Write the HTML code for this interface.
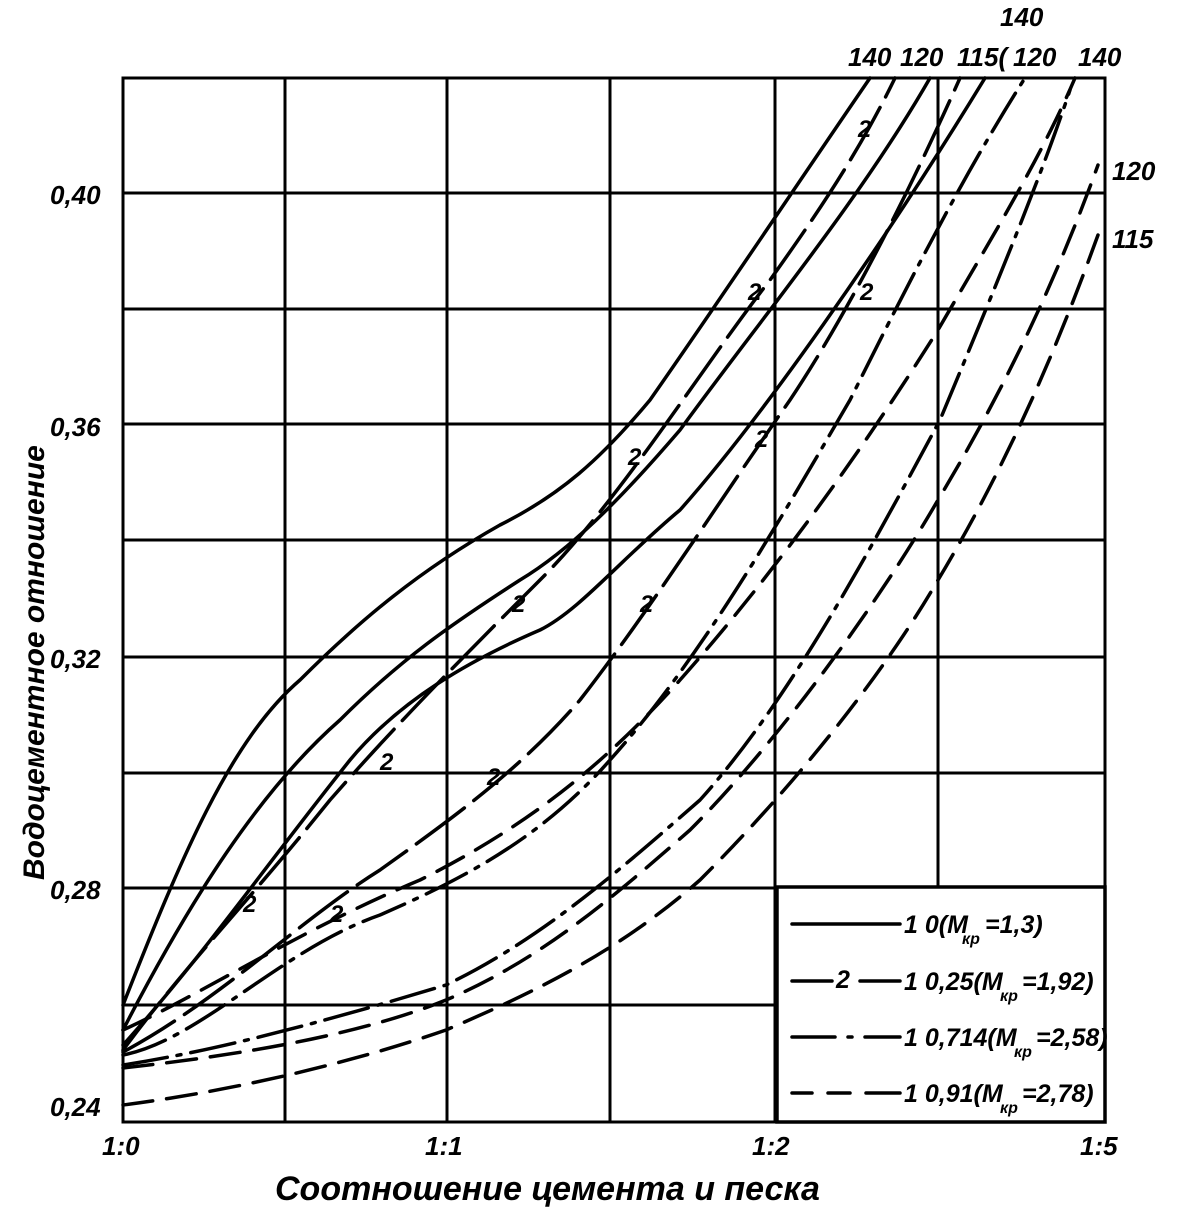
<!DOCTYPE html>
<html><head><meta charset="utf-8"><style>
html,body{margin:0;padding:0;background:#fff;}
svg{display:block;}
text{font-family:"Liberation Sans",sans-serif;font-style:italic;fill:#000;}
</style></head><body>
<svg width="1177" height="1217" viewBox="0 0 1177 1217" xmlns="http://www.w3.org/2000/svg">
<g stroke="#000" stroke-width="3" fill="none">
<rect x="123" y="78" width="982" height="1044"/>
<line x1="285" y1="78" x2="285" y2="1122"/>
<line x1="447" y1="78" x2="447" y2="1122"/>
<line x1="610" y1="78" x2="610" y2="1122"/>
<line x1="775" y1="78" x2="775" y2="1122"/>
<line x1="938" y1="78" x2="938" y2="887"/>
<line x1="123" y1="193" x2="1105" y2="193"/>
<line x1="123" y1="309" x2="1105" y2="309"/>
<line x1="123" y1="424" x2="1105" y2="424"/>
<line x1="123" y1="540" x2="1105" y2="540"/>
<line x1="123" y1="657" x2="1105" y2="657"/>
<line x1="123" y1="773" x2="1105" y2="773"/>
<line x1="123" y1="888" x2="1105" y2="888"/>
<line x1="123" y1="1005" x2="777" y2="1005"/>
</g>
<g stroke="#000" stroke-width="3.5" fill="none" stroke-linejoin="round" stroke-linecap="round">
<path d="M123,1005 C180,860 230,740 300,680 C360,620 420,570 500,525 C560,495 600,460 650,400 C720,300 800,180 870,78"/>
<path d="M123,1030 C190,900 260,790 340,720 C400,660 450,625 520,580 C570,550 620,500 680,430 C760,320 860,200 930,78"/>
<path d="M123,1045 C200,960 270,860 350,760 C400,700 470,660 540,630 C580,610 620,560 680,510 C760,420 880,250 985,78"/>
<path d="M123,1050 C190,960 250,900 330,800 C400,720 470,650 540,580 C620,500 700,370 770,280 C820,210 860,150 895,78" stroke-dasharray="60,12"/>
<path d="M123,1052 C220,1000 300,920 380,870 C450,820 520,770 580,700 C650,610 720,500 790,400 C850,310 910,190 960,78" stroke-dasharray="60,12"/>
<path d="M123,1055 C200,1040 280,950 380,915 C460,880 540,840 610,760 C700,660 780,520 850,400 C900,300 960,180 1025,78" stroke-dasharray="45,10,4,10"/>
<path d="M123,1065 C220,1050 330,1020 446,985 C540,940 620,870 700,800 C790,700 870,550 940,420 C990,300 1040,180 1070,90" stroke-dasharray="45,10,4,10"/>
<path d="M123,1030 C200,995 300,930 420,880 C520,830 600,770 680,680 C760,590 850,470 938,330 C990,240 1040,160 1075,78" stroke-dasharray="30,14"/>
<path d="M123,1068 C240,1055 360,1035 446,1000 C540,960 610,900 690,830 C780,740 880,600 938,500 C1010,380 1060,270 1098,165" stroke-dasharray="30,14"/>
<path d="M123,1105 C240,1090 360,1060 446,1030 C540,990 620,950 700,880 C790,790 880,680 938,580 C1010,460 1060,340 1098,235" stroke-dasharray="30,14"/>
</g>
<g font-size="24" font-weight="bold">
<text x="860" y="300">2</text>
<text x="748" y="300">2</text>
<text x="628" y="465">2</text>
<text x="512" y="612">2</text>
<text x="380" y="770">2</text>
<text x="243" y="912">2</text>
<text x="858" y="137">2</text>
<text x="755" y="447">2</text>
<text x="640" y="612">2</text>
<text x="487" y="785">2</text>
<text x="330" y="922">2</text>
</g>
<rect x="777" y="887" width="328" height="235" fill="#fff" stroke="#000" stroke-width="3.5"/>
<g stroke="#000" stroke-width="3.5" stroke-linecap="round">
<line x1="792" y1="924" x2="900" y2="924"/>
<line x1="792" y1="981" x2="832" y2="981"/><line x1="860" y1="981" x2="900" y2="981"/>
<line x1="792" y1="1037" x2="835" y2="1037"/><line x1="848" y1="1037" x2="852" y2="1037"/><line x1="865" y1="1037" x2="900" y2="1037"/>
<line x1="792" y1="1093" x2="812" y2="1093"/><line x1="828" y1="1093" x2="850" y2="1093"/><line x1="866" y1="1093" x2="900" y2="1093"/>
</g>
<g font-size="25" font-weight="bold">
<text x="836" y="988">2</text>
<text x="904" y="933">1 0(M</text><text x="962" y="944" font-size="16">кр</text><text x="985" y="933">=1,3)</text>
<text x="904" y="990">1 0,25(M</text><text x="1000" y="1001" font-size="16">кр</text><text x="1022" y="990">=1,92)</text>
<text x="904" y="1046">1 0,714(M</text><text x="1014" y="1057" font-size="16">кр</text><text x="1036" y="1046">=2,58)</text>
<text x="904" y="1102">1 0,91(M</text><text x="1000" y="1113" font-size="16">кр</text><text x="1022" y="1102">=2,78)</text>
</g>
<g font-size="26" font-weight="bold">
<text x="50" y="204">0,40</text>
<text x="50" y="436">0,36</text>
<text x="50" y="668">0,32</text>
<text x="50" y="899">0,28</text>
<text x="50" y="1116">0,24</text>
<text x="102" y="1155">1:0</text>
<text x="425" y="1155">1:1</text>
<text x="752" y="1155">1:2</text>
<text x="1080" y="1155">1:5</text>
<text x="848" y="66">140</text>
<text x="900" y="66">120</text>
<text x="957" y="66">115(</text>
<text x="1013" y="66">120</text>
<text x="1078" y="66">140</text>
<text x="1000" y="26">140</text>
<text x="1112" y="180">120</text>
<text x="1112" y="248">115</text>
</g>
<text x="275" y="1200" font-size="34" font-weight="bold">Соотношение цемента и песка</text>
<text transform="translate(44,880) rotate(-90)" font-size="30" font-weight="bold">Водоцементное отношение</text>
</svg>
</body></html>
